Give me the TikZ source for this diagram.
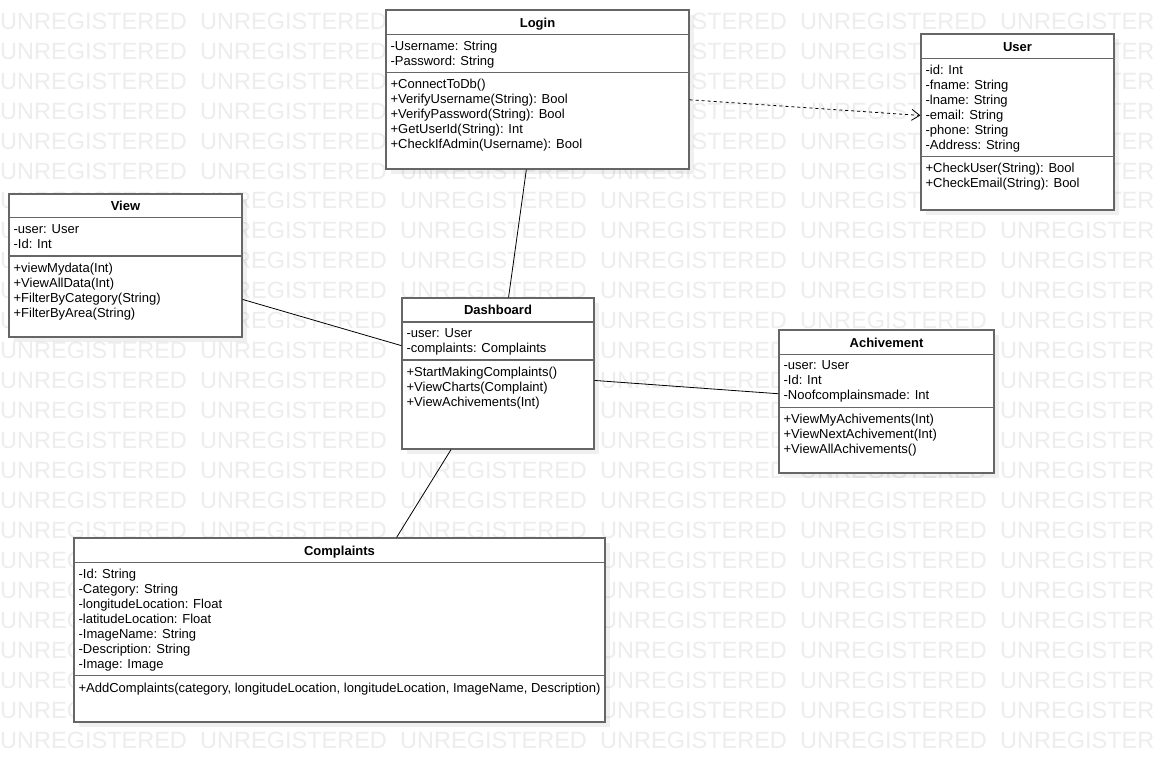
\documentclass[tikz,border=0pt]{standalone}
\usepackage{fontspec}
\setmainfont{Liberation Sans}
\usetikzlibrary{arrows.meta,shadows,calc}

\begin{document}
\begin{tikzpicture}[
        x=1pt, y=-1pt,
        font=\fontsize{13}{15}\selectfont,
        watermark/.style={anchor=base west, inner sep=0pt, text=black!7, font=\fontsize{23.5}{25}\selectfont},
        classbox/.style={rectangle, draw=black!60, line width=1.2pt, fill=white, inner sep=0pt,
            drop shadow={shadow xshift=5pt, shadow yshift=-5pt, fill=black, opacity=0.06}},
        classname/.style={anchor=base, inner sep=0pt, font=\fontsize{13}{15}\selectfont\bfseries},
        members/.style={anchor=north west, align=left, inner sep=0pt, execute at begin node=\strut},
        divider/.style={draw=black!60, line width=1.2pt},
        link/.style={draw=black, line width=0.8pt},
        depends/.style={draw=black, line width=0.8pt, dash pattern=on 3pt off 3pt,
            -{Straight Barb[length=8pt,width=11pt,line width=0.8pt]}}
    ]
        \useasboundingbox (0,0) rectangle (1154,762);
        \fill[white] (0,0) rectangle (1154,762);

        \begin{scope}
            \clip (0,0) rectangle (1154,762);
            \foreach \row in {0,...,24}
                \foreach \col in {0,...,5}
                    \node[watermark] (wm-\row-\col) at (200*\col, 29.3+29.95*\row) {UNREGISTERED};
        \end{scope}

        % Login
        \node[classbox, minimum width=303, minimum height=159] (login) at (537.5,89.5) {};
        \node[classname] (logintitle) at ([yshift=-18pt]login.north) {Login};
        \draw[divider] ([yshift=-25pt]login.north west) -- ([yshift=-25pt]login.north east);
        \draw[divider] ([yshift=-63pt]login.north west) -- ([yshift=-63pt]login.north east);
        \node[members] (loginattr) at ([shift={(5pt,-31.5pt)}]login.north west)
            {-Username: String\\-Password: String};
        \node[members] (loginops) at ([shift={(5pt,-69.5pt)}]login.north west)
            {+ConnectToDb()\\+VerifyUsername(String): Bool\\+VerifyPassword(String): Bool\\+GetUserId(String): Int\\+CheckIfAdmin(Username): Bool};

        % User
        \node[classbox, minimum width=193, minimum height=176] (user) at (1017.5,122) {};
        \node[classname] (usertitle) at ([yshift=-18pt]user.north) {User};
        \draw[divider] ([yshift=-25pt]user.north west) -- ([yshift=-25pt]user.north east);
        \draw[divider] ([yshift=-123pt]user.north west) -- ([yshift=-123pt]user.north east);
        \node[members] (userattr) at ([shift={(5pt,-31.5pt)}]user.north west)
            {-id: Int\\-fname: String\\-lname: String\\-email: String\\-phone: String\\-Address: String};
        \node[members] (userops) at ([shift={(5pt,-129.5pt)}]user.north west)
            {+CheckUser(String): Bool\\+CheckEmail(String): Bool};

        % View
        \node[classbox, minimum width=233, minimum height=143] (view) at (125.5,265.5) {};
        \node[classname] (viewtitle) at ([yshift=-17.5pt]view.north) {View};
        \draw[divider] ([yshift=-24.5pt]view.north west) -- ([yshift=-24.5pt]view.north east);
        \draw[divider] ([yshift=-62.5pt]view.north west) -- ([yshift=-62.5pt]view.north east);
        \node[members] (viewattr) at ([shift={(5pt,-31pt)}]view.north west)
            {-user: User\\-Id: Int};
        \node[members] (viewops) at ([shift={(5pt,-69pt)}]view.north west)
            {+viewMydata(Int)\\+ViewAllData(Int)\\+FilterByCategory(String)\\+FilterByArea(String)};

        % Dashboard
        \node[classbox, minimum width=192, minimum height=151] (dashboard) at (498,373.5) {};
        \node[classname] (dashboardtitle) at ([yshift=-17.5pt]dashboard.north) {Dashboard};
        \draw[divider] ([yshift=-24.5pt]dashboard.north west) -- ([yshift=-24.5pt]dashboard.north east);
        \draw[divider] ([yshift=-62.5pt]dashboard.north west) -- ([yshift=-62.5pt]dashboard.north east);
        \node[members] (dashboardattr) at ([shift={(5pt,-31pt)}]dashboard.north west)
            {-user: User\\-complaints: Complaints};
        \node[members] (dashboardops) at ([shift={(5pt,-69pt)}]dashboard.north west)
            {+StartMakingComplaints()\\+ViewCharts(Complaint)\\+ViewAchivements(Int)};

        % Achivement
        \node[classbox, minimum width=215, minimum height=143] (achivement) at (886.5,401.5) {};
        \node[classname] (achivementtitle) at ([yshift=-18pt]achivement.north) {Achivement};
        \draw[divider] ([yshift=-25pt]achivement.north west) -- ([yshift=-25pt]achivement.north east);
        \draw[divider] ([yshift=-78pt]achivement.north west) -- ([yshift=-78pt]achivement.north east);
        \node[members] (achivementattr) at ([shift={(5pt,-31pt)}]achivement.north west)
            {-user: User\\-Id: Int\\-Noofcomplainsmade: Int};
        \node[members] (achivementops) at ([shift={(5pt,-84pt)}]achivement.north west)
            {+ViewMyAchivements(Int)\\+ViewNextAchivement(Int)\\+ViewAllAchivements()};

        % Complaints
        \node[classbox, minimum width=531, minimum height=184] (complaints) at (339.5,630) {};
        \node[classname] (complaintstitle) at ([yshift=-18pt]complaints.north) {Complaints};
        \draw[divider] ([yshift=-25pt]complaints.north west) -- ([yshift=-25pt]complaints.north east);
        \draw[divider] ([yshift=-138pt]complaints.north west) -- ([yshift=-138pt]complaints.north east);
        \node[members] (complaintsattr) at ([shift={(5pt,-31pt)}]complaints.north west)
            {-Id: String\\-Category: String\\-longitudeLocation: Float\\-latitudeLocation: Float\\-ImageName: String\\-Description: String\\-Image: Image};
        \node[members] (complaintsops) at ([shift={(5pt,-144pt)}]complaints.north west)
            {+AddComplaints(category, longitudeLocation, longitudeLocation, ImageName, Description)};

        \draw[depends] (login) -- (user);
        \draw[link] (login) -- (dashboard);
        \draw[link] (view) -- (dashboard);
        \draw[link] (dashboard) -- (achivement);
        \draw[link] (dashboard) -- (complaints);
    \end{tikzpicture}
\end{document}
